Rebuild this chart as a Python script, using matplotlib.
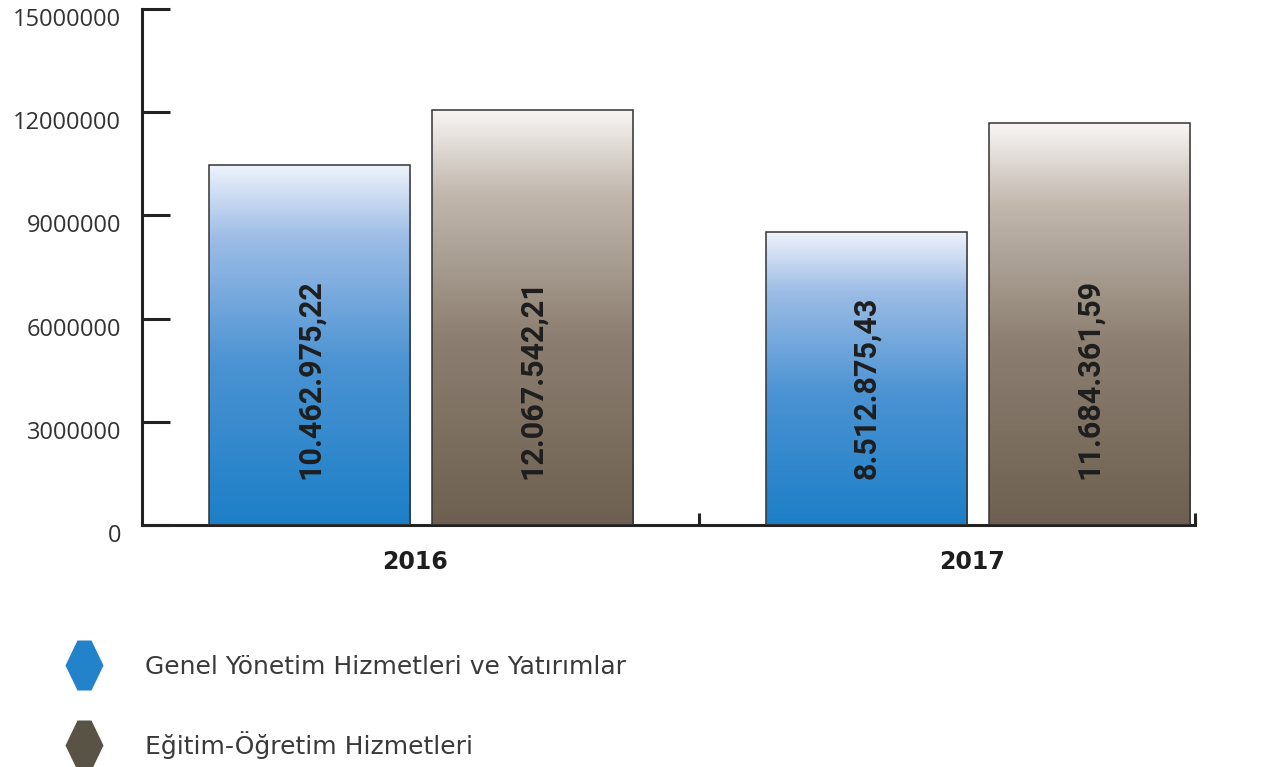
import numpy as np
import matplotlib
matplotlib.use("Agg")
import matplotlib.pyplot as plt
import matplotlib.transforms as mtransforms
from matplotlib.colors import LinearSegmentedColormap
from matplotlib.lines import Line2D

years = ["2016", "2017"]
series_names = ["Genel Yönetim Hizmetleri ve Yatırımlar", "Eğitim-Öğretim Hizmetleri"]
genel = [10462975.22, 8512875.43]
egitim = [12067542.21, 11684361.59]
genel_labels = ["10.462.975,22", "8.512.875,43"]
egitim_labels = ["12.067.542,21", "11.684.361,59"]
yticks = [0, 3000000, 6000000, 9000000, 12000000, 15000000]

plt.rcParams["font.family"] = ["Open Sans", "DejaVu Sans"]

blue_cmap = LinearSegmentedColormap.from_list(
    "blue", [(0, "#1c7fc7"), (0.45, "#4b93d3"), (0.8, "#9dbde6"), (1, "#eef2fb")])
brown_cmap = LinearSegmentedColormap.from_list(
    "brown", [(0, "#6d6050"), (0.45, "#8c7f71"), (0.8, "#c2b8ae"), (1, "#f8f6f4")])

fig = plt.figure(figsize=(12.66, 7.67), dpi=100)
ax = fig.add_axes([0.1122, 0.3155, 0.8318, 0.6728])

x = np.arange(len(years))
width = 0.361
offset = 0.2


def gradient_bars(xs, values, cmap):
    bars = ax.bar(xs, values, width, facecolor="none", edgecolor="#333333",
                  linewidth=1.1, zorder=3)
    grad = np.linspace(0, 1, 256).reshape(-1, 1)
    for b in bars:
        x0, y0 = b.get_x(), b.get_y()
        im = ax.imshow(grad, cmap=cmap, origin="lower", aspect="auto",
                       extent=[x0, x0 + b.get_width(), y0, y0 + b.get_height()],
                       zorder=2)
        im.set_clip_path(b)
    return bars


gradient_bars(x - offset, genel, blue_cmap)
gradient_bars(x + offset, egitim, brown_cmap)

# value labels written upward inside each bar
label_base = 1340000
for i in range(len(years)):
    for xpos, txt in [(x[i] - offset, genel_labels[i]), (x[i] + offset, egitim_labels[i])]:
        ax.text(xpos, label_base, txt, rotation=90, ha="center", va="bottom",
                fontsize=22, fontweight="bold", color="#1e1e1e",
                family=["Roboto", "DejaVu Sans"], zorder=4)

ax.set_xlim(-0.501, 1.39)
ax.set_ylim(0, 15000000)

for side in ["top", "right"]:
    ax.spines[side].set_visible(False)
for side in ["left", "bottom"]:
    ax.spines[side].set_color("#222222")
    ax.spines[side].set_linewidth(2.2)

ax.set_yticks(yticks)
ax.set_yticklabels([str(v) for v in yticks])
ax.tick_params(axis="y", direction="in", length=20, width=2.2, color="#222222",
               pad=15, labelsize=17, labelcolor="#333333")

ax.set_xticks(x - 0.01)
ax.set_xticklabels(years, family=["DejaVu Sans"], fontweight="bold")
ax.set_xticks([0.5, 1.39], minor=True)
ax.tick_params(axis="x", which="major", length=0, pad=18, labelsize=17,
               labelcolor="#1e1e1e")
ax.tick_params(axis="x", which="minor", direction="in", length=9, width=2.2,
               color="#222222")

shift = mtransforms.ScaledTranslation(0, -8 / 100, fig.dpi_scale_trans)
for lbl in ax.get_yticklabels():
    lbl.set_transform(lbl.get_transform() + shift)

hexagon = [(-0.76, 0), (-0.28, 1), (0.28, 1), (0.76, 0), (0.28, -1), (-0.28, -1)]
handles = [
    Line2D([], [], linestyle="none", marker=hexagon, markersize=36,
           markerfacecolor="#2283cb", markeredgecolor="none"),
    Line2D([], [], linestyle="none", marker=hexagon, markersize=36,
           markerfacecolor="#595346", markeredgecolor="none"),
]
leg = fig.legend(handles, series_names, loc="upper left",
                 bbox_to_anchor=(0.0466, 0.159), frameon=False,
                 prop={"family": "DejaVu Sans", "size": 18},
                 labelspacing=2.08, handletextpad=1.84, handlelength=1.2,
                 borderaxespad=0)
for t in leg.get_texts():
    t.set_color("#3a3a3a")

fig.savefig("out.png", dpi=100)
